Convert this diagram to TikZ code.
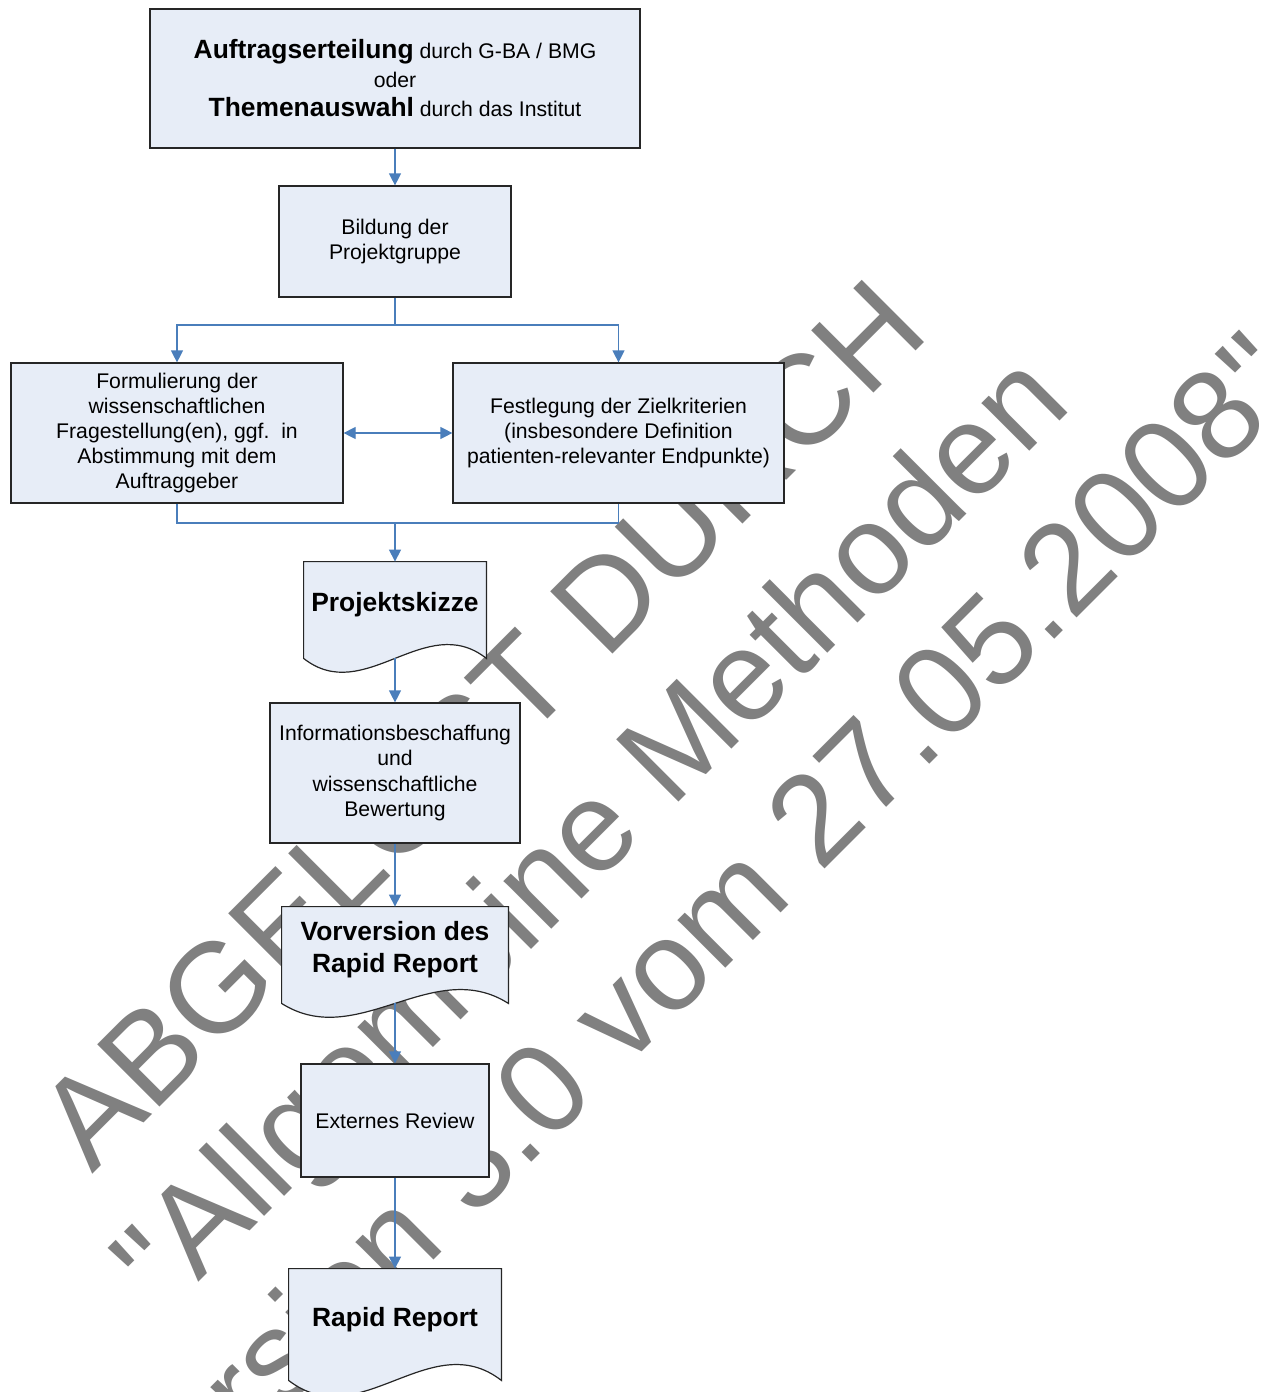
\documentclass[tikz,border=0pt]{standalone}
\usepackage{fontspec}
\setmainfont{Liberation Sans}
\usetikzlibrary{arrows.meta,calc,backgrounds}
\definecolor{boxfill}{RGB}{231,237,247}
\definecolor{flowblue}{RGB}{74,126,187}
\definecolor{wmgray}{RGB}{128,128,128}
\tikzset{
boxtext/.style={align=center,inner sep=0pt,font=\fontsize{10.6}{12.6}\selectfont},
procbox/.style={boxtext,draw=black!85,line width=0.6pt,fill=boxfill},
docbox/.style={boxtext,text depth=8pt,font=\fontsize{13.2}{16}\selectfont\bfseries},
docline/.style={draw=black!85,line width=0.6pt,fill=boxfill},
flowline/.style={draw=flowblue,line width=0.6pt},
flowarrow/.style={flowline,-{Triangle[length=6pt,width=6pt]}},
wmark/.style={text=wmgray,rotate=45,anchor=base,inner sep=0pt,font=\fontsize{64}{74}\selectfont},
}

\begin{document}
\begin{tikzpicture}[x=0.5pt,y=-0.5pt]
\clip (0,0) rectangle (1276,1392);
\begin{scope}[on background layer]
\node[wmark] (wm1) at (512,755) {ABGELÖST DURCH};
\node[wmark] (wm2) at (620,861) {\textquotedbl Allgemeine Methoden};
\node[wmark] (wm3) at (726,968) {Version 3.0 vom 27.05.2008\textquotedbl};
\end{scope}

\node[procbox,minimum width=245pt,minimum height=69.5pt,font=\fontsize{10.6}{14.5}\selectfont] (auftrag) at (395,78.5) {{\fontsize{13.2}{14.5}\selectfont\bfseries Auftragserteilung} durch G-BA / BMG\\oder\\{\fontsize{13.2}{14.5}\selectfont\bfseries Themenauswahl} durch das Institut};
\node[procbox,minimum width=116pt,minimum height=55.5pt] (bildung) at (395,241.5) {Bildung der\\Projektgruppe};
\node[procbox,minimum width=166pt,minimum height=70pt] (formul) at (177,433) {Formulierung der\\wissenschaftlichen\\Fragestellung(en), ggf.\ \ in\\Abstimmung mit dem\\Auftraggeber};
\node[procbox,minimum width=165.5pt,minimum height=70pt] (festl) at (618.5,433) {Festlegung der Zielkriterien\\(insbesondere Definition\\patienten-relevanter Endpunkte)};
\node[docbox,minimum width=91pt,minimum height=48pt] (skizze) at (395,610) {Projektskizze};
\node[procbox,minimum width=125pt,minimum height=70pt] (info) at (395,773) {Informationsbeschaffung\\und\\wissenschaftliche\\Bewertung};
\node[docbox,minimum width=113pt,minimum height=48pt] (vorv) at (395,955) {Vorversion des\\Rapid Report};
\node[procbox,minimum width=94pt,minimum height=56.5pt] (review) at (395,1120.5) {Externes Review};
\node[docbox,minimum width=106pt,minimum height=55.5pt] (rapid) at (395,1324.5) {Rapid Report};

\begin{scope}[on background layer]
\draw[docline] (skizze.north west) -- (skizze.north east) -- (skizze.south east) .. controls ($(skizze.south east)!1/3!(skizze.south west)+(0,-48)$) and ($(skizze.south east)!2/3!(skizze.south west)+(0,48)$) .. (skizze.south west) -- cycle;
\draw[docline] (vorv.north west) -- (vorv.north east) -- (vorv.south east) .. controls ($(vorv.south east)!1/3!(vorv.south west)+(0,-48)$) and ($(vorv.south east)!2/3!(vorv.south west)+(0,48)$) .. (vorv.south west) -- cycle;
\draw[docline] (rapid.north west) -- (rapid.north east) -- (rapid.south east) .. controls ($(rapid.south east)!1/3!(rapid.south west)+(0,-55)$) and ($(rapid.south east)!2/3!(rapid.south west)+(0,55)$) .. (rapid.south west) -- cycle;
\end{scope}

\coordinate (split) at (395,325);
\coordinate (join) at (395,523);
\draw[flowarrow] (auftrag) -- (bildung);
\draw[flowline] (bildung) -- (split);
\draw[flowarrow] (split) -| (formul);
\draw[flowarrow] (split) -| (festl);
\draw[flowline,{Triangle[length=6pt,width=6pt]}-{Triangle[length=6pt,width=6pt]}] (formul) -- (festl);
\draw[flowline] (formul) |- (join) -| (festl);
\draw[flowarrow] (join) -- (skizze);
\draw[flowarrow] (skizze.south) -- (info);
\draw[flowarrow] (info) -- (vorv);
\draw[flowarrow] (vorv.south) -- (review);
\draw[flowarrow] (review) -- (rapid);
\end{tikzpicture}
\end{document}
